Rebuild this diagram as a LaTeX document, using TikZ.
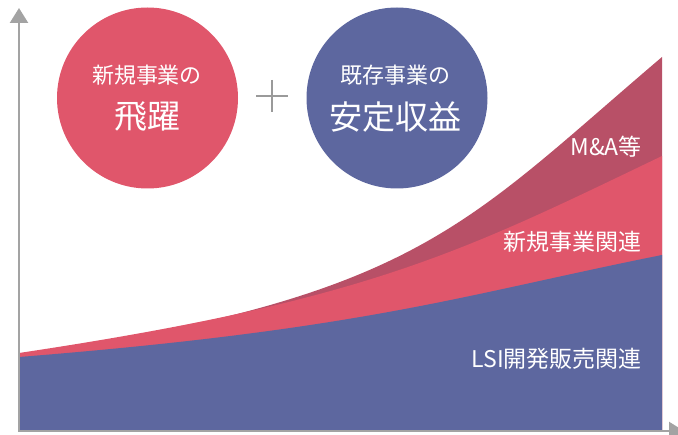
\documentclass[tikz,border=0pt]{standalone}
\usepackage{fontspec}
\setmainfont{Noto Sans CJK JP}
\usetikzlibrary{calc,arrows.meta}
\definecolor{pinkc}{HTML}{E0566B}
\definecolor{darkc}{HTML}{B85067}
\definecolor{bluec}{HTML}{5D679F}
\definecolor{axisc}{HTML}{A3A3A3}
\definecolor{plusc}{HTML}{9A9A9A}
\begin{document}
\begin{tikzpicture}[x=1pt,y=-1pt,
  circ/.style={circle,inner sep=0pt,minimum size=181pt},
  ctext/.style={text=white,inner sep=0pt,font=\fontsize{22}{22}\selectfont},
  cbig/.style={text=white,inner sep=0pt,font=\fontsize{33}{33}\selectfont},
  lab/.style={text=white,inner sep=0pt,anchor=east,font=\fontsize{23}{23}\selectfont},
  axisline/.style={draw=axisc,line width=2.5pt,{Triangle[width=18pt,length=15pt]}-{Triangle[width=18pt,length=15pt]}},
  plusline/.style={draw=plusc,line width=2pt}]
\useasboundingbox (0,0) rectangle (678,435);
% areas
\fill[darkc] (19,431) -- (19,356) .. controls (419,296) and (462,227) .. (662,57) -- (662,431) -- cycle;
\fill[pinkc] (19,431) -- (19,353) .. controls (369,300.5) and (462,252) .. (662,156) -- (662,431) -- cycle;
\fill[bluec] (19,431) -- (19,357) .. controls (369,329) and (462,295) .. (662,255) -- (662,431) -- cycle;
% axes
\coordinate (ytip) at (19,8);
\coordinate (O) at (19,431);
\coordinate (xtip) at (684,431);
\draw[axisline] (ytip) -- (O) -- (xtip);
% circles
\node[circ,fill=pinkc] (c1) at (147.5,98) {};
\node[ctext] (c1a) at (147,75) {新規事業の};
\node[cbig] (c1b) at (147,117) {飛躍};
\node[circ,fill=bluec] (c2) at (397,98) {};
\node[ctext] (c2a) at (395,75) {既存事業の};
\node[cbig] (c2b) at (395,117) {安定収益};
% plus
\coordinate (plus) at (272,96);
\draw[plusline] ($(plus)+(-16,0)$) -- ($(plus)+(16,0)$);
\draw[plusline] ($(plus)+(0,-16)$) -- ($(plus)+(0,16)$);
% labels
\node[lab] (l1) at (642,147) {M\&A等};
\node[lab] (l2) at (642,242) {新規事業関連};
\node[lab] (l3) at (642,359) {LSI開発販売関連};
\end{tikzpicture}
\end{document}
